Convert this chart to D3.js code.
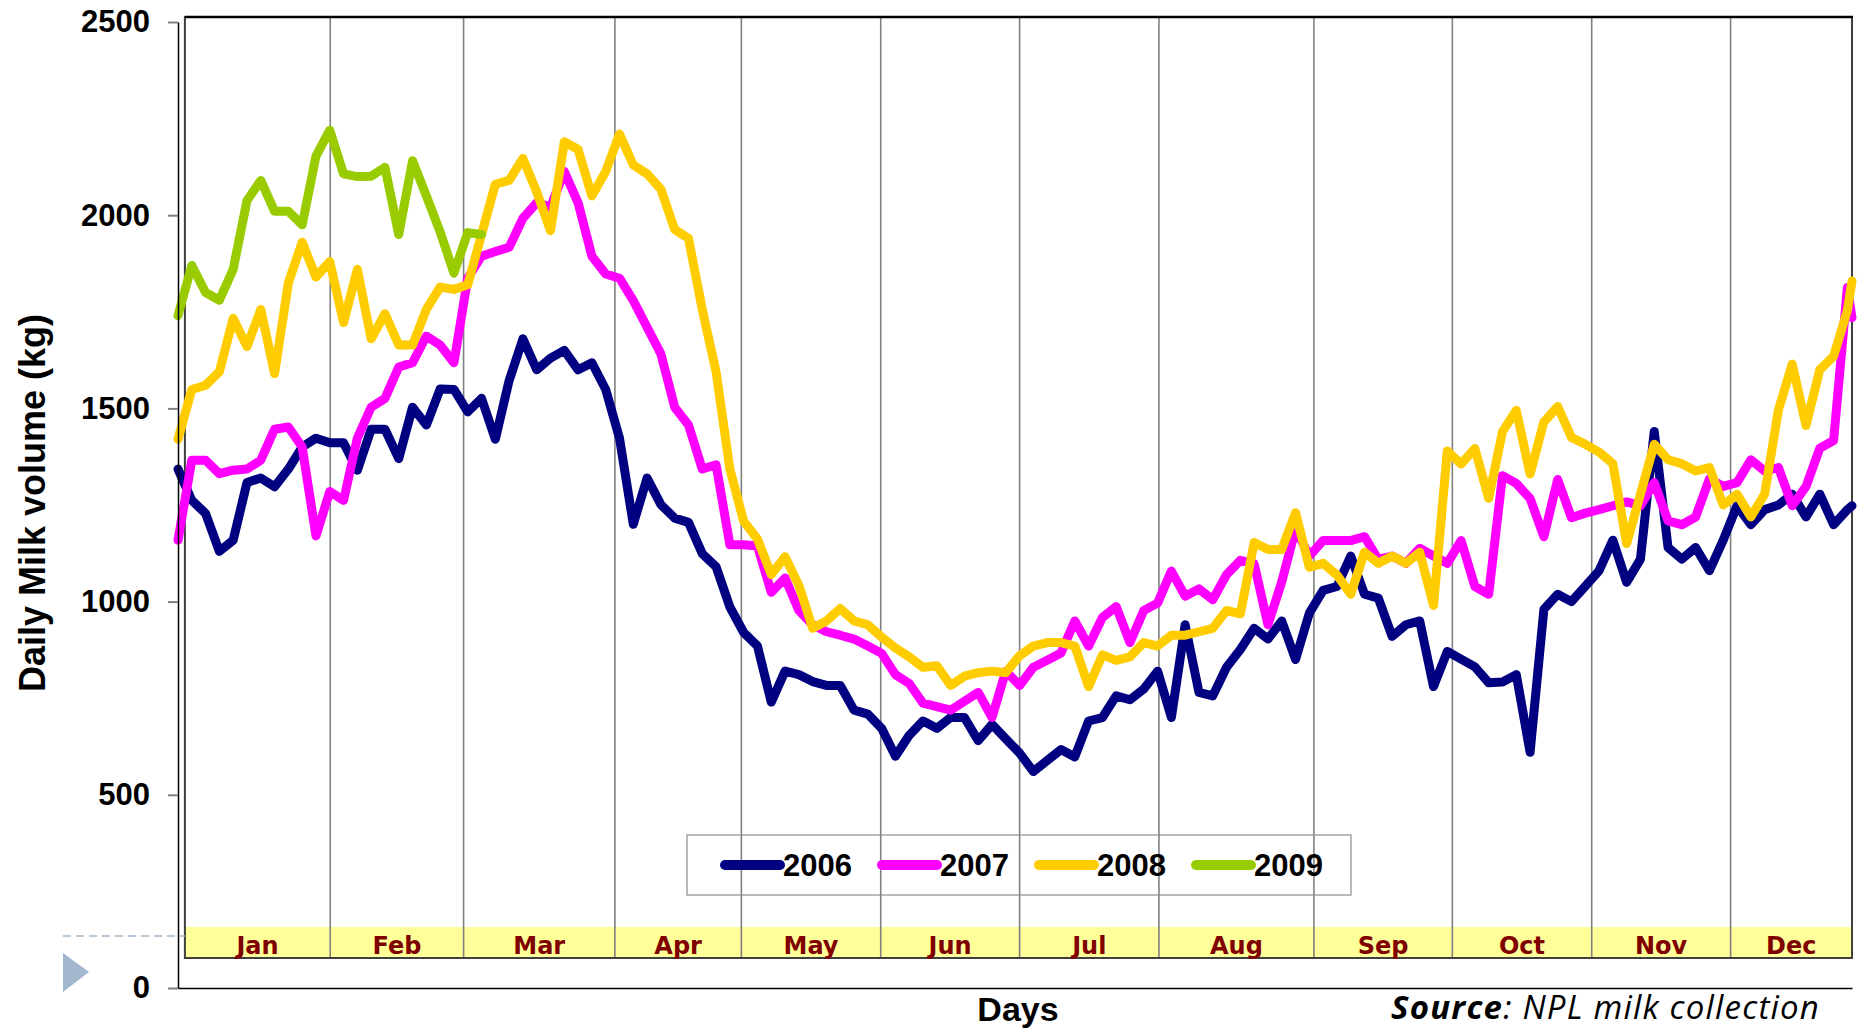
<!DOCTYPE html>
<html>
<head>
<meta charset="utf-8">
<script src="https://cdn.jsdelivr.net/npm/d3@7"></script>
<style>
  body { margin: 0; background: #fff; }
  svg { display: block; }
  text { font-family: "Liberation Sans", Arial, sans-serif; }
</style>
</head>
<body>
<svg></svg>
<script>
// Month bands (boundaries, in day-of-year units)
const months = ["Jan", "Feb", "Mar", "Apr", "May", "Jun", "Jul", "Aug", "Sep", "Oct", "Nov", "Dec"];
const monthBreaks = [2.5, 34.1, 63.1, 96, 123.5, 153.8, 184, 214.3, 248, 278.1, 308.4, 338.6, 365];
const yTicks = [0, 500, 1000, 1500, 2000, 2500];
const years = ["2006", "2007", "2008", "2009"];

// sampled every 3rd day
const days = d3.range(1, 365, 3).concat([365]);

const milk2006 = [
  1343, 1262, 1228, 1130, 1159, 1308, 1320, 1297, 1343, 1400,
  1423, 1411, 1411, 1340, 1446, 1446, 1370, 1503, 1457, 1550,
  1549, 1491, 1526, 1420, 1572, 1680, 1600, 1630, 1650, 1600,
  1618, 1549, 1423, 1200, 1320, 1251, 1216, 1205, 1124, 1090,
  986, 920, 885, 740, 820, 811, 793, 783, 783, 719,
  709, 672, 600, 654, 691, 672, 700, 700, 640, 682,
  645, 608, 560, 589, 617, 598, 691, 700, 756, 746,
  774, 820, 700, 940, 765, 756, 830, 876, 931, 903,
  950, 850, 970, 1029, 1039, 1118, 1019, 1009, 910, 940,
  950, 780, 871, 851, 831, 790, 792, 811, 610, 980,
  1019, 1000, 1040, 1080, 1159, 1050, 1110, 1440, 1140, 1110,
  1140, 1080, 1159, 1248, 1199, 1238, 1250, 1278, 1219, 1278,
  1199, 1238, 1248
];
const milk2007 = [
  1159, 1366, 1366, 1331, 1340, 1343, 1366, 1446, 1452, 1400,
  1170, 1285, 1262, 1423, 1503, 1526, 1607, 1618, 1687, 1664,
  1618, 1837, 1894, 1906, 1917, 1992, 2032, 2021, 2113, 2032,
  1894, 1848, 1837, 1779, 1710, 1641, 1503, 1457, 1343, 1354,
  1147, 1147, 1144, 1024, 1061, 977, 940, 922, 913, 903,
  885, 866, 811, 788, 737, 728, 719, 742, 765, 700,
  820, 783, 830, 848, 867, 950, 885, 959, 987, 894,
  977, 996, 1079, 1014, 1033, 1005, 1070, 1107, 1098, 940,
  1051, 1188, 1118, 1158, 1158, 1158, 1168, 1109, 1118, 1099,
  1138, 1118, 1099, 1158, 1039, 1019, 1326, 1306, 1267, 1168,
  1316, 1217, 1229, 1238, 1248, 1258, 1248, 1308, 1209, 1199,
  1219, 1318, 1298, 1308, 1367, 1338, 1347, 1248, 1298, 1397,
  1417, 1813, 1735
];
const milk2008 = [
  1420, 1549, 1560, 1595, 1733, 1660, 1756, 1590, 1825, 1930,
  1840, 1880, 1722, 1860, 1680, 1745, 1664, 1664, 1756, 1814,
  1808, 1820, 1950, 2080, 2090, 2147, 2060, 1960, 2190, 2170,
  2050, 2113, 2210, 2130, 2107, 2067, 1963, 1940, 1756, 1595,
  1343, 1208, 1162, 1070, 1116, 1042, 931, 950, 982, 950,
  940, 908, 880, 857, 830, 834, 783, 807, 816, 820,
  816, 860, 885, 894, 894, 885, 780, 862, 848, 857,
  894, 885, 913, 913, 922, 931, 977, 968, 1153, 1135,
  1135, 1230, 1089, 1099, 1069, 1019, 1128, 1099, 1118, 1099,
  1128, 990, 1390, 1356, 1396, 1267, 1440, 1495, 1330, 1465,
  1505, 1425, 1407, 1387, 1357, 1150, 1278, 1407, 1367, 1357,
  1338, 1347, 1250, 1278, 1219, 1278, 1496, 1615, 1456, 1600,
  1635, 1754, 1830
];
// 2009 only runs to early March
const milk2009 = [
  1740, 1870, 1800, 1780, 1860, 2038, 2090, 2010, 2010, 1975,
  2153, 2220, 2107, 2100, 2101, 2124, 1950, 2141, 2050, 1957,
  1850, 1955, 1950
];

const series = [milk2006, milk2007, milk2008, milk2009];
const colours = ["#000080", "#ff00ff", "#ffcc00", "#99cc00"];

const W = 1858, H = 1030;
const svg = d3.select("svg").attr("width", W).attr("height", H);

const xScale = d3.scaleLinear().domain([1, 365]).range([178, 1852]);
const yScale = d3.scaleLinear().domain([0, 2500]).range([988, 22]);

// inner frame with month bands
const frameTop = 17, frameBottom = 958, bandTop = 927;
const fx0 = xScale(monthBreaks[0]), fx1 = xScale(monthBreaks[12]);

svg.append("rect")
  .attr("x", fx0).attr("y", bandTop)
  .attr("width", fx1 - fx0).attr("height", frameBottom - bandTop)
  .attr("fill", "#ffff99");

svg.selectAll(".mgrid")
  .data(monthBreaks.slice(1, 12))
  .enter()
  .append("line")
    .attr("class", "mgrid")
    .attr("x1", d => xScale(d)).attr("x2", d => xScale(d))
    .attr("y1", frameTop).attr("y2", frameBottom)
    .attr("stroke", "#808080")
    .attr("stroke-width", 1.6);

svg.append("rect")
  .attr("x", fx0).attr("y", frameTop)
  .attr("width", fx1 - fx0).attr("height", frameBottom - frameTop)
  .attr("fill", "none")
  .attr("stroke", "#404040")
  .attr("stroke-width", 2);

svg.append("line")
  .attr("x1", fx0).attr("x2", fx1 + 1)
  .attr("y1", frameTop).attr("y2", frameTop)
  .attr("stroke", "#000").attr("stroke-width", 2.5);

svg.selectAll(".mlabel")
  .data(months)
  .enter()
  .append("text")
    .attr("class", "mlabel")
    .attr("x", (d, i) => (xScale(monthBreaks[i]) + xScale(monthBreaks[i + 1])) / 2)
    .attr("y", 954)
    .attr("text-anchor", "middle")
    .style("font-family", "'URW Gothic', 'DejaVu Sans', sans-serif")
    .style("font-weight", "bold")
    .style("font-size", "24px")
    .attr("fill", "#800000")
    .text(d => d);

// legend (drawn before lines, no fill so gridlines show through)
const legend = svg.append("g").attr("transform", "translate(687, 835)");
legend.append("rect")
  .attr("width", 664).attr("height", 60)
  .attr("fill", "none")
  .attr("stroke", "#8c8c8c")
  .attr("stroke-width", 1.2);

const item = legend.selectAll(".item")
  .data(years)
  .enter()
  .append("g")
    .attr("class", "item")
    .attr("transform", (d, i) => `translate(${38 + i * 157}, 30)`);

item.append("line")
  .attr("x1", 0).attr("x2", 55)
  .attr("stroke", (d, i) => colours[i])
  .attr("stroke-width", 10)
  .attr("stroke-linecap", "round");

item.append("text")
  .attr("x", 58).attr("y", 11)
  .style("font-weight", "bold")
  .style("font-size", "31px")
  .text(d => d);

// series lines
const line = d3.line()
  .x((d, i) => xScale(days[i]))
  .y(d => yScale(d));

svg.selectAll(".series")
  .data(series)
  .enter()
  .append("path")
    .attr("class", "series")
    .attr("d", d => line(d))
    .attr("fill", "none")
    .attr("stroke", (d, i) => colours[i])
    .attr("stroke-width", 9)
    .attr("stroke-linejoin", "round")
    .attr("stroke-linecap", "round");

// y axis
const yAxis = svg.append("g")
  .attr("transform", `translate(${xScale(1)}, 0)`)
  .call(d3.axisLeft(yScale)
    .tickValues(yTicks)
    .tickFormat(d3.format("d"))
    .tickSize(10).tickSizeOuter(0).tickPadding(18));
yAxis.select(".domain").attr("stroke", "#000").attr("stroke-width", 1.5);
yAxis.selectAll(".tick line").attr("stroke", "#808080").attr("stroke-width", 2);
yAxis.selectAll(".tick text")
  .style("font-family", "'Liberation Sans', Arial, sans-serif")
  .style("font-weight", "bold")
  .style("font-size", "31px")
  .attr("fill", "#000");

// x axis baseline
const xAxis = svg.append("g")
  .attr("transform", `translate(0, ${yScale(0)})`)
  .call(d3.axisBottom(xScale).tickValues([]).tickSizeOuter(0));
xAxis.select(".domain").attr("stroke", "#000").attr("stroke-width", 1.5);

// titles
svg.append("text")
  .attr("transform", "translate(45, 503) rotate(-90)")
  .attr("text-anchor", "middle")
  .style("font-weight", "bold")
  .style("font-size", "36px")
  .text("Daily Milk volume (kg)");

svg.append("text")
  .attr("x", 1018).attr("y", 1021)
  .attr("text-anchor", "middle")
  .style("font-weight", "bold")
  .style("font-size", "34px")
  .text("Days");

const src = svg.append("text")
  .attr("x", 1391).attr("y", 1019)
  .style("font-family", "'Open Sans', 'Noto Sans', sans-serif")
  .style("font-style", "italic")
  .style("font-size", "33px")
  .style("letter-spacing", "1.2px");
src.append("tspan").style("font-weight", "bold").text("Source");
src.append("tspan").text(": NPL milk collection");

// slide decoration on the left
svg.append("line")
  .attr("x1", 63).attr("x2", fx0)
  .attr("y1", 936).attr("y2", 936)
  .attr("stroke", "#a3b6cc")
  .attr("stroke-width", 1.5)
  .attr("stroke-dasharray", "8,5");

svg.append("path")
  .attr("d", "M63,953 L89,972 L63,992 Z")
  .attr("fill", "#a3b8cf");
</script>
</body>
</html>
